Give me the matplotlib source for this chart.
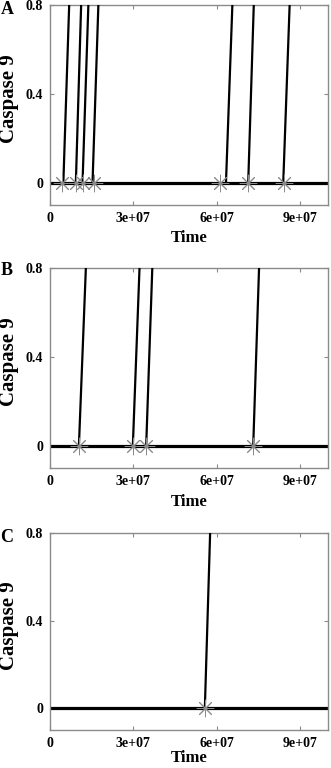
import matplotlib
matplotlib.use("Agg")
import matplotlib.pyplot as plt

plt.rcParams['font.family'] = ['Liberation Serif', 'DejaVu Serif']
plt.rcParams['font.weight'] = 'bold'

# Data: onset time (Caspase 9 starts rising from 0) and time when it reaches 0.8
panel_labels = ["A", "B", "C"]
onset_A = [4.8e6, 9.3e6, 1.17e7, 1.53e7, 6.33e7, 7.13e7, 8.39e7]
reach_A = [6.9e6, 1.12e7, 1.38e7, 1.74e7, 6.56e7, 7.33e7, 8.62e7]
stars_A = [4.2e6, 9.3e6, 1.17e7, 1.59e7, 6.11e7, 7.14e7, 8.41e7]
onset_B = [1.04e7, 2.98e7, 3.46e7, 7.31e7]
reach_B = [1.29e7, 3.22e7, 3.68e7, 7.52e7]
stars_B = [1.04e7, 2.98e7, 3.46e7, 7.31e7]
onset_C = [5.57e7]
reach_C = [5.76e7]
stars_C = [5.57e7]
x_ticks = [0, 3e7, 6e7, 9e7]
x_ticklabels = ["0", "3e+07", "6e+07", "9e+07"]
y_ticks = [0, 0.4, 0.8]
y_ticklabels = ["0", "0.4", "0.8"]
x_max = 1e8
y_top = 0.8
baseline_level = 0.0

panels = [(onset_A, reach_A, stars_A), (onset_B, reach_B, stars_B), (onset_C, reach_C, stars_C)]

W, H = 331, 768
fig = plt.figure(figsize=(W / 100, H / 100), dpi=100)

# axes boxes in pixels: (left, top, right, bottom)
boxes = [(50, 5, 328, 205), (50, 268, 328, 468), (50, 533, 328, 730)]
letter_pos = [(7, 9), (7, 271), (7, 537)]
xlabel_pads = [4, 4, 0]

gray = '#8a8a8a'
for (onsets, reaches, stars), (l, t, r, b), lab, (lx, ly), lp in zip(panels, boxes, panel_labels, letter_pos, xlabel_pads):
    ax = fig.add_axes([l / W, 1 - b / H, (r - l) / W, (b - t) / H])
    ax.plot([0, x_max], [baseline_level, baseline_level], color='black', lw=2.3, zorder=2)
    for x0, x1 in zip(onsets, reaches):
        # extend the linear rise a bit beyond the top so it is clipped
        ext = x1 + (x1 - x0) * 0.15
        ax.plot([x0, x1, ext], [0, y_top, y_top * 1.15], color='black', lw=1.6, zorder=3)
    ax.plot(stars, [0] * len(stars), linestyle='none', marker=(8, 2, 0),
            markersize=12.5, markeredgecolor=gray, markerfacecolor='none',
            markeredgewidth=0.7, zorder=4)
    ax.set_xlim(0, x_max)
    ax.set_ylim(-0.1, y_top)
    ax.set_xticks(x_ticks)
    ax.set_xticklabels(x_ticklabels)
    ax.set_yticks(y_ticks)
    ax.set_yticklabels(y_ticklabels)
    ax.tick_params(direction='in', length=3, width=0.8, color=gray,
                   top=True, right=True, labelsize=10, pad=5)
    for s in ax.spines.values():
        s.set_color(gray)
        s.set_linewidth(1.0)
    for lbl in ax.get_xticklabels() + ax.get_yticklabels():
        lbl.set_fontweight('bold')
    ax.set_xlabel("Time", fontsize=12, fontweight='bold', labelpad=lp)
    ax.set_ylabel("Caspase 9", fontsize=15, fontweight='bold')
    ax.yaxis.set_label_coords((9 - l) / (r - l), 0.53)
    ax.yaxis.label.set_verticalalignment('center')
    ax.yaxis.label.set_horizontalalignment('center')
    fig.text(lx / W, 1 - ly / H, lab, fontsize=13, fontweight='bold', ha='center', va='center')

fig.savefig("out.png", dpi=100)
